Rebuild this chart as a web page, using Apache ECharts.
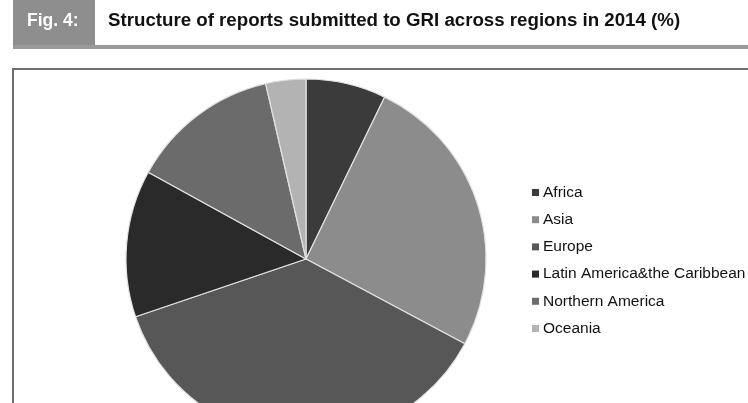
<!DOCTYPE html>
<html>
<head>
<meta charset="utf-8">
<script src="https://cdn.jsdelivr.net/npm/echarts@6/dist/echarts.min.js"></script>
<style>
  html, body { margin: 0; padding: 0; background: #fff; }
  #chart { width: 748px; height: 403px; }
</style>
</head>
<body>
<div id="chart"></div>
<script>
// data (share of reports, %)
var regions = ['Africa', 'Asia', 'Europe', 'Latin America&the Caribbean', 'Northern America', 'Oceania'];
var shares = [7.2, 25.6, 37.0, 13.2, 13.4, 3.6];
var greys = ['#3b3b3b', '#8c8c8c', '#575757', '#2a2a2a', '#6b6b6b', '#b3b3b3'];

var myChart = echarts.init(document.getElementById('chart'));

var pieData = regions.map(function (name, i) {
    return { name: name, value: shares[i], itemStyle: { color: greys[i] } };
});

var option = {
    animation: false,
    backgroundColor: '#fff',
    graphic: [
        // header block
        { type: 'rect', shape: { x: 13, y: 0, width: 82, height: 45 }, style: { fill: '#8e8e8e' } },
        { type: 'rect', shape: { x: 13, y: 45, width: 735, height: 4 }, style: { fill: '#9a9a9a' } },
        { type: 'text', left: 27, top: 12, style: { text: 'Fig. 4:', fill: '#fff', font: 'bold 17.5px "Liberation Sans", Arial, sans-serif' } },
        { type: 'text', left: 108, top: 11, style: { text: 'Structure of reports submitted to GRI across regions in 2014 (%)', fill: '#111', font: 'bold 18.7px "Liberation Sans", Arial, sans-serif' } },
        // frame round the chart
        { type: 'rect', shape: { x: 13, y: 69, width: 760, height: 360 }, style: { fill: 'none', stroke: '#6e6e6e', lineWidth: 2 } }
    ],
    legend: {
        orient: 'vertical',
        left: 532,
        top: 184.5,
        padding: 0,
        icon: 'rect',
        itemWidth: 7,
        itemHeight: 7,
        itemGap: 11.2,
        itemStyle: { borderWidth: 0 },
        textStyle: {
            color: '#111',
            fontSize: 15.5,
            fontFamily: '"Liberation Sans", Arial, sans-serif',
            padding: [0, 0, 0, -1]
        },
        data: regions
    },
    series: [
        {
            name: 'Reports',
            type: 'pie',
            center: [306, 259],
            radius: [0, 180],
            startAngle: 90,
            clockwise: true,
            avoidLabelOverlap: false,
            label: { show: false },
            labelLine: { show: false },
            emphasis: { disabled: true },
            itemStyle: { borderColor: '#e2e2e2', borderWidth: 1.2 },
            data: pieData
        }
    ]
};

myChart.setOption(option);
</script>
</body>
</html>
